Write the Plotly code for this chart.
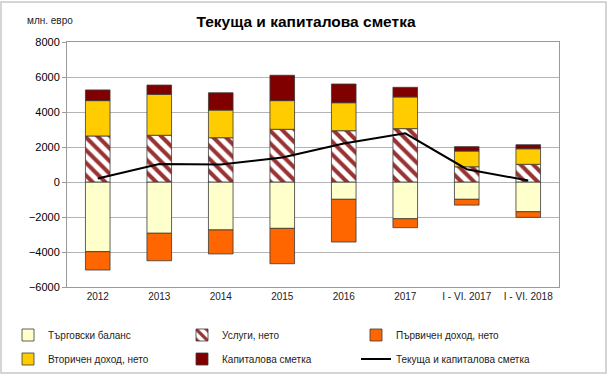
import plotly.graph_objects as go

categories = ["2012", "2013", "2014", "2015", "2016", "2017", "I - VI. 2017", "I - VI. 2018"]
trade_balance = [-3980, -2930, -2740, -2650, -990, -2100, -990, -1700]
services = [2630, 2670, 2530, 3010, 2930, 3050, 870, 1010]
primary_income = [-1050, -1570, -1370, -2020, -2440, -510, -330, -320]
secondary_income = [2020, 2340, 1580, 1640, 1600, 1810, 900, 890]
capital_account = [610, 530, 990, 1450, 1070, 550, 250, 230]
current_capital = [200, 1030, 1000, 1400, 2200, 2780, 730, 80]

names = ["Търговски баланс", "Услуги, нето", "Първичен доход, нето",
         "Вторичен доход, нето", "Капиталова сметка", "Текуща и капиталова сметка"]

outline = dict(color="#3a3a3a", width=0.8)
W = 0.4

fig = go.Figure()
fig.add_trace(go.Bar(x=categories, y=trade_balance, name=names[0], width=W, legend="legend",
                     marker=dict(color="#FFFFCC", line=outline)))
fig.add_trace(go.Bar(x=categories, y=services, name=names[1], width=W, legend="legend",
                     marker=dict(color="#FFFFFF", line=outline,
                                 pattern=dict(shape="\\", fgcolor="#993333", bgcolor="#FFFFFF",
                                              size=9, solidity=0.45, fillmode="replace"))))
fig.add_trace(go.Bar(x=categories, y=primary_income, name=names[2], width=W, legend="legend",
                     marker=dict(color="#FF6600", line=outline)))
fig.add_trace(go.Bar(x=categories, y=secondary_income, name=names[3], width=W, legend="legend2",
                     marker=dict(color="#FFCC00", line=outline)))
fig.add_trace(go.Bar(x=categories, y=capital_account, name=names[4], width=W, legend="legend2",
                     marker=dict(color="#800000", line=outline)))
fig.add_trace(go.Scatter(x=categories, y=current_capital, name=names[5], mode="lines",
                         legend="legend2", line=dict(color="#000000", width=2)))

L, R, T, B = 67, 51, 42, 91
pw, ph = 610 - L - R, 378 - T - B

def px(x):
    return (x - L) / pw

def py(y):
    return (378 - B - y) / ph

leg_common = dict(orientation="h", xanchor="left", yanchor="middle",
                  entrywidth=129, entrywidthmode="pixels", font=dict(size=10, color="#222222"),
                  itemwidth=30, tracegroupgap=0, bgcolor="rgba(0,0,0,0)")

fig.update_layout(
    width=610, height=378,
    margin=dict(l=L, r=R, t=T, b=B, autoexpand=False),
    barmode="relative",
    paper_bgcolor="#FFFFFF", plot_bgcolor="#FFFFFF",
    font=dict(family="Liberation Sans, Arial, sans-serif", size=11, color="#000000"),
    title=dict(text="<b>Текуща и капиталова сметка</b>", x=306 / 610, xanchor="center",
               y=1 - 22 / 378, yanchor="middle", font=dict(size=15.5, color="#000000")),
    showlegend=True,
    legend=dict(x=px(8), y=py(335), **leg_common),
    legend2=dict(x=px(8), y=py(359), **leg_common),
    xaxis=dict(showgrid=False, showline=True, linecolor="#9a9a9a", linewidth=1, mirror=True,
               ticks="", tickfont=dict(size=10, color="#222222")),
    yaxis=dict(range=[-6000, 8000], dtick=2000, showgrid=True, gridcolor="#b4b4b4", gridwidth=1,
               showline=True, linecolor="#9a9a9a", linewidth=1, mirror=True, zeroline=False,
               ticks="outside", ticklen=4, tickcolor="#9a9a9a",
               tickfont=dict(size=11, color="#000000"), tickformat="d"),
    annotations=[dict(text="млн. евро", xref="paper", yref="paper", x=px(25), y=py(20),
                      xanchor="left", yanchor="middle", showarrow=False,
                      font=dict(size=10, color="#222222"))],
    shapes=[dict(type="rect", xref="paper", yref="paper", x0=px(1), x1=px(606), y0=py(373), y1=py(2),
                 line=dict(color="#c8c8c8", width=1.5), fillcolor="rgba(0,0,0,0)", layer="below")],
)

fig.write_html("out.html", config={"displayModeBar": False},
               post_script="document.body.style.margin='0';")
